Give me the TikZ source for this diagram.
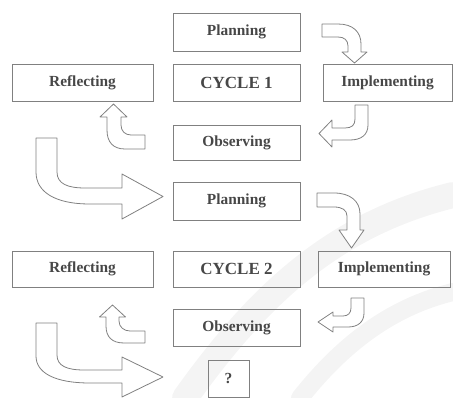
\documentclass[tikz,border=0pt]{standalone}
\usepackage{fontspec}
\setmainfont{Liberation Serif}
\begin{document}
\begin{tikzpicture}[x=1pt,y=-1pt,
  stagebox/.style={draw=black!50, line width=0.9pt, text=black!72,
    font=\fontsize{15.4}{18}\selectfont\bfseries, inner sep=0pt},
  cyclebox/.style={stagebox, font=\fontsize{17}{20}\selectfont\bfseries},
  blockarrow/.style={draw=black!50, line width=0.8pt, line join=round, fill=white},
  haze/.style={line cap=round, draw=black, opacity=0.045}]
\useasboundingbox (0,0) rectangle (453,398);

% faint background marks
\draw[haze, line width=26pt] (185,398) .. controls (255,300) and (330,225) .. (453,195);
\draw[haze, line width=18pt] (300,398) .. controls (350,335) and (400,305) .. (453,292);

% cycle 1
\node[stagebox, minimum width=127, minimum height=38] (plan1) at (236.5,32) {Planning};
\node[stagebox, minimum width=141, minimum height=37] (refl1) at (82.5,82.5) {Reflecting};
\node[cyclebox, minimum width=127, minimum height=37] (cyc1) at (236.5,82.5) {CYCLE 1};
\node[stagebox, minimum width=129, minimum height=37] (impl1) at (387.5,82.5) {Implementing};
\node[stagebox, minimum width=127, minimum height=35] (obs1) at (236.5,142.5) {Observing};

% cycle 2
\node[stagebox, minimum width=127, minimum height=38] (plan2) at (236.5,201) {Planning};
\node[stagebox, minimum width=141, minimum height=36] (refl2) at (82.5,269) {Reflecting};
\node[cyclebox, minimum width=127, minimum height=36] (cyc2) at (236.5,269) {CYCLE 2};
\node[stagebox, minimum width=132, minimum height=36] (impl2) at (384,269) {Implementing};
\node[stagebox, minimum width=127, minimum height=37] (obs2) at (236.5,327.5) {Observing};
\node[stagebox, minimum width=41, minimum height=37] (next) at (228.5,378.5) {?};

% planning -> implementing (cycle 1)
\draw[blockarrow] (322,24) -- (338,24) .. controls (353,24) and (361,32) .. (361,44)
  -- (361,52) -- (367,52) -- (354.5,63) -- (342,52) -- (348,52) -- (348,46)
  .. controls (348,40) and (344,37) .. (338,37) -- (322,37) -- cycle;
% implementing -> observing (cycle 1)
\draw[blockarrow] (355,105) -- (368,105) -- (368,125) .. controls (368,135) and (361,140) .. (350,140)
  -- (332,140) -- (332,147) -- (319,133.5) -- (332,120) -- (332,128) -- (345,128)
  .. controls (352,128) and (355,125) .. (355,119) -- cycle;
% observing -> reflecting (cycle 1)
\draw[blockarrow] (145,135) -- (131,135) .. controls (125,135) and (121,131) .. (121,125)
  -- (121,117) -- (127,117) -- (113.5,104) -- (100,117) -- (107,117) -- (107,130)
  .. controls (107,142) and (113,149) .. (125,149) -- (145,149) -- cycle;
% reflecting -> planning of the next cycle
\draw[blockarrow] (36,138) -- (57,138) -- (57,172) .. controls (57,184) and (68,188) .. (85,188)
  -- (122,188) -- (122,174) -- (163,196.5) -- (122,219) -- (122,204) -- (90,204)
  .. controls (55,204) and (36,192) .. (36,172) -- cycle;

% planning -> implementing (cycle 2)
\draw[blockarrow] (317,193) -- (334,193) .. controls (350,193) and (360,201) .. (360,214)
  -- (360,230) -- (364,230) -- (351.5,248) -- (339,230) -- (347,230) -- (347,216)
  .. controls (347,210) and (342,207) .. (334,207) -- (317,207) -- cycle;
% implementing -> observing (cycle 2)
\draw[blockarrow] (351,298) -- (364,298) -- (364,313) .. controls (364,322) and (358,327) .. (348,327)
  -- (333,327) -- (333,332) -- (318,322) -- (333,312) -- (333,316) -- (343,316)
  .. controls (348,316) and (351,313) .. (351,308) -- cycle;
% observing -> reflecting (cycle 2)
\draw[blockarrow] (145,331) -- (130,331) .. controls (124,331) and (119,327) .. (119,321)
  -- (119,317) -- (125.5,317) -- (112.5,305) -- (99.5,317) -- (106,317) -- (106,326)
  .. controls (106,337) and (112,343) .. (124,343) -- (145,343) -- cycle;
% reflecting -> next step
\draw[blockarrow] (36,323) -- (57,323) -- (57,355) .. controls (57,366) and (67,370) .. (84,370)
  -- (122,370) -- (122,357) -- (163,377) -- (122,397) -- (122,383) -- (90,383)
  .. controls (55,383) and (36,373) .. (36,356) -- cycle;
\end{tikzpicture}
\end{document}
